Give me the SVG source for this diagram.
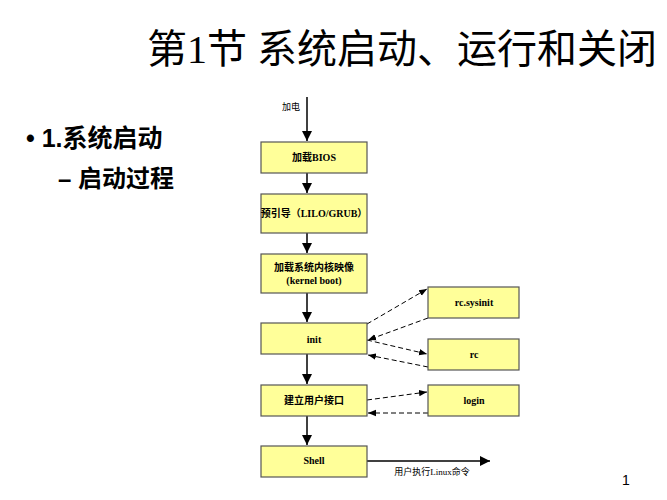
<svg xmlns="http://www.w3.org/2000/svg" width="667" height="500" viewBox="0 0 667 500">
<style>
.box{fill:#ffff99;stroke:#555;stroke-width:1.2}
.t{font-family:"Liberation Serif","Noto Sans CJK SC",serif;font-size:10px;font-weight:bold;text-anchor:middle}
.s{stroke:#000;stroke-width:1.5;fill:none}
.d{stroke:#000;stroke-width:1;fill:none;stroke-dasharray:5,3}
</style>
<defs>
<marker id="a" viewBox="0 0 10 10" refX="10" refY="5" markerWidth="7" markerHeight="7" orient="auto"><path d="M0,0L10,5L0,10z" fill="#000"/></marker>
<marker id="b" viewBox="0 0 10 10" refX="10" refY="5" markerWidth="8" markerHeight="8" orient="auto"><path d="M0,1L10,5L0,9z" fill="#000"/></marker>
</defs>
<rect width="667" height="500" fill="#fff"/>
<text x="402" y="63" font-family="Liberation Serif,'Noto Sans CJK SC',serif" font-size="40" text-anchor="middle">第1节 系统启动、运行和关闭</text>
<text x="26" y="147" font-family="Liberation Sans,'Noto Sans CJK SC',sans-serif" font-size="25" font-weight="bold">• 1.系统启动</text>
<text x="58" y="187" font-family="Liberation Sans,'Noto Sans CJK SC',sans-serif" font-size="24" font-weight="bold">– 启动过程</text>
<text x="622" y="485" font-family="Liberation Sans,sans-serif" font-size="14">1</text>
<g id="connectors">
<line class="s" x1="307" y1="97" x2="307" y2="141" marker-end="url(#a)"/>
<line class="s" x1="307" y1="173" x2="307" y2="193" marker-end="url(#a)"/>
<line class="s" x1="307" y1="233" x2="307" y2="253" marker-end="url(#a)"/>
<line class="s" x1="307" y1="293" x2="307" y2="322" marker-end="url(#a)"/>
<line class="s" x1="307" y1="354" x2="307" y2="384" marker-end="url(#a)"/>
<line class="s" x1="307" y1="416" x2="307" y2="445" marker-end="url(#a)"/>
<line class="s" x1="367" y1="461" x2="490" y2="461" marker-end="url(#a)"/>
<line class="d" x1="367" y1="324" x2="427" y2="289" marker-end="url(#b)"/>
<line class="d" x1="428" y1="318" x2="368" y2="340" marker-end="url(#b)"/>
<line class="d" x1="367" y1="340" x2="427" y2="354" marker-end="url(#b)"/>
<line class="d" x1="428" y1="367" x2="368" y2="355" marker-end="url(#b)"/>
<line class="d" x1="367" y1="400" x2="427" y2="392" marker-end="url(#b)"/>
<line class="d" x1="428" y1="413" x2="368" y2="413" marker-end="url(#b)"/>
</g>
<text x="291" y="110" font-family="'Noto Sans CJK SC',sans-serif" font-size="9" text-anchor="middle">加电</text>
<text x="432" y="475" font-family="Liberation Serif,'Noto Sans CJK SC',serif" font-size="9" text-anchor="middle">用户执行Linux命令</text>
<g id="bios"><rect class="box" x="261" y="142" width="106" height="31"/><text class="t" x="314" y="161">加载BIOS</text></g>
<g id="boot"><rect class="box" x="261" y="194" width="106" height="39"/><text class="t" x="314" y="217">预引导（LILO/GRUB）</text></g>
<g id="kernel"><rect class="box" x="261" y="254" width="106" height="39"/><text class="t" x="314" y="271">加载系统内核映像</text><text class="t" x="314" y="284">(kernel boot)</text></g>
<g id="init"><rect class="box" x="261" y="323" width="106" height="31"/><text class="t" x="314" y="343">init</text></g>
<g id="ui"><rect class="box" x="261" y="385" width="106" height="31"/><text class="t" x="314" y="404">建立用户接口</text></g>
<g id="shell"><rect class="box" x="261" y="446" width="106" height="31"/><text class="t" x="314" y="464">Shell</text></g>
<g id="sysinit"><rect class="box" x="428" y="287" width="91" height="31"/><text class="t" x="474" y="306">rc.sysinit</text></g>
<g id="rc"><rect class="box" x="428" y="339" width="91" height="31"/><text class="t" x="474" y="358">rc</text></g>
<g id="login"><rect class="box" x="428" y="385" width="91" height="31"/><text class="t" x="474" y="404">login</text></g>
</svg>
